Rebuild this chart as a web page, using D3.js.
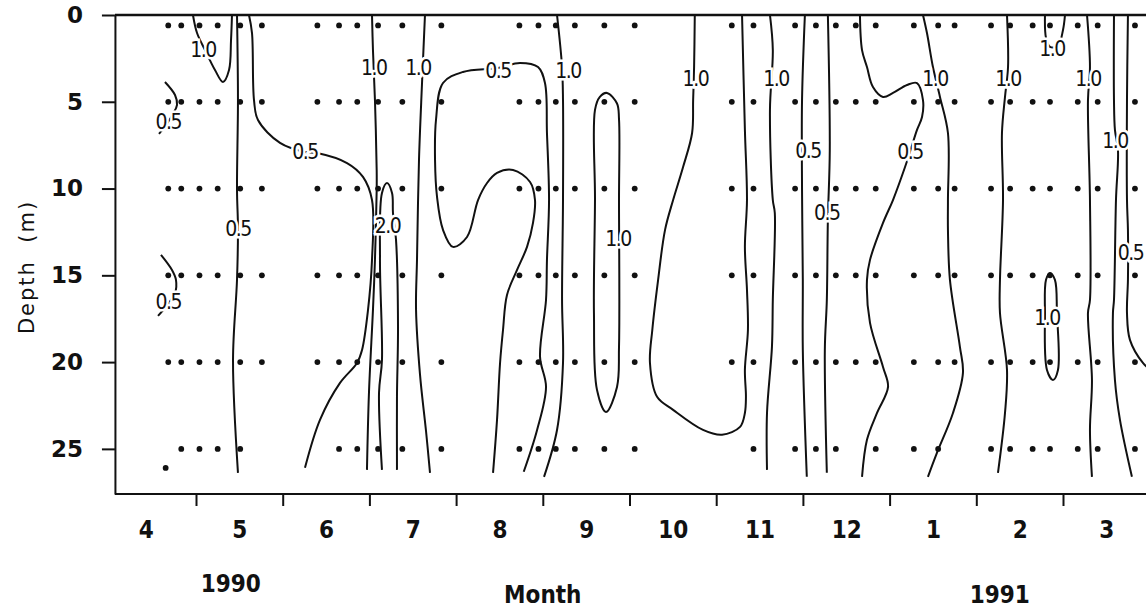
<!DOCTYPE html>
<html>
<head>
<meta charset="utf-8">
<script src="https://cdn.jsdelivr.net/npm/d3@7"></script>
<style>
  body { margin: 0; background: #fff; }
  text { fill: #111; }
</style>
</head>
<body>
<svg width="1146" height="611"></svg>
<script>
// x values are months since 1 April 1990, y values are depth in metres
var monthTicks = [1, 2, 3, 4, 5, 6, 7, 8, 9, 10, 11];
var monthNames = ["4", "5", "6", "7", "8", "9", "10", "11", "12", "1", "2", "3"];
var monthLabelPos = [0.42, 1.5, 2.5, 3.5, 4.5, 5.5, 6.5, 7.5, 8.5, 9.5, 10.5, 11.5];
var depthTicks = [0, 5, 10, 15, 20, 25];

// sampling stations (month position) and sampled depths (surface drawn just below 0)
var stations = [0.68, 0.83, 1.04, 1.25, 1.51, 1.76, 2.40, 2.65, 2.86, 3.10, 3.38, 3.83,
  4.73, 4.95, 5.15, 5.37, 5.71, 6.06, 7.18, 7.43, 7.91, 8.15, 8.38, 8.61, 8.84,
  9.28, 9.56, 9.75, 10.17, 10.39, 10.65, 10.85, 11.17, 11.40, 11.83];
var sampleDepths = [0.6, 5, 10, 15, 20, 25];
var missing25 = [0, 5, 6, 18, 23, 27]; // station indexes with no 25 m sample
var extraSamples = [[0.65, 26.1]];

// contour lines, [month, depth]
var c10a = [[0.965, 0], [1.012, 1.04], [1.104, 2.02], [1.219, 3.17], [1.311, 3.86], [1.381, 3.17], [1.404, 1.44], [1.415, 0]];
var c05a = [[1.473, 0], [1.484, 4.9], [1.473, 10.08], [1.484, 12.27], [1.473, 15.26], [1.427, 19.87], [1.484, 26.38]];
var c05b = [[1.611, 0], [1.646, 1.04], [1.669, 4.9], [1.715, 6.05], [1.969, 7.37], [2.257, 7.89], [2.396, 7.95],
  [2.742, 8.53], [2.926, 9.33], [3.03, 10.66], [3.03, 14.11], [2.984, 16.99], [2.915, 19.3], [2.857, 20.05],
  [2.661, 21.2], [2.43, 23.33], [2.257, 26.09]];
var c05c = [[0.642, 3.86], [0.758, 4.61], [0.781, 5.18], [0.735, 5.7], [0.619, 6.57], [0.573, 6.85]];
var c05d = [[0.596, 13.82], [0.723, 14.69], [0.769, 15.26], [0.758, 16.01], [0.562, 17.34]];
var c10b = [[3.03, 0], [3.041, 2.02], [3.064, 4.9], [3.084, 8.93], [3.084, 10.08], [3.064, 14.11], [3.041, 16.99], [2.995, 21.77], [2.972, 26.21]];
var c20a = [[3.145, 26.21], [3.111, 21.77], [3.145, 19.87], [3.122, 14.11], [3.145, 10.25], [3.203, 9.68],
  [3.261, 10.25], [3.272, 11.41], [3.307, 12.96], [3.33, 17.97], [3.318, 22.0], [3.318, 26.21]];
var c10c = [[3.641, 0], [3.607, 3.92], [3.572, 8.35], [3.549, 14.11], [3.538, 16.99], [3.584, 20.74], [3.653, 23.97], [3.699, 26.38]];
var c05e = [[4.426, 26.38], [4.472, 23.33], [4.507, 20.05], [4.541, 18.15], [4.587, 16.13], [4.703, 14.69],
  [4.818, 13.36], [4.887, 11.98], [4.91, 10.66], [4.853, 9.62], [4.657, 8.93], [4.472, 9.1], [4.357, 9.68],
  [4.253, 10.66], [4.126, 12.79], [3.964, 13.36], [3.849, 12.38], [3.78, 10.48], [3.757, 8.35], [3.768, 6.05],
  [3.849, 3.92], [4.079, 3.28], [4.484, 3.05], [4.737, 2.76], [4.945, 3.0], [5.025, 3.92], [5.048, 6.8],
  [5.072, 10.66], [5.048, 14.11], [5.037, 16.42], [4.968, 19.7], [5.037, 21.43], [4.934, 23.91], [4.78, 26.32]];
var c10d = [[5.164, 0], [5.222, 3.0], [5.233, 4.9], [5.233, 10.66], [5.222, 16.42], [5.233, 20.05], [5.164, 23.91], [5.014, 26.61]];
var c10e = [[5.74, 4.49], [5.856, 5.1], [5.879, 6.0], [5.879, 10.66], [5.879, 19.12], [5.856, 21.43], [5.729, 22.87],
  [5.625, 21.6], [5.59, 17.17], [5.602, 10.66], [5.602, 5.47], [5.658, 4.72]];
var c10f = [[6.753, 0], [6.745, 3.0], [6.734, 4.9], [6.722, 6.8], [6.618, 8.76], [6.503, 10.66], [6.41, 12.38],
  [6.33, 15.26], [6.263, 18.15], [6.236, 20.05], [6.318, 22.0], [6.503, 22.75], [6.848, 23.91], [7.067, 24.19],
  [7.275, 23.73], [7.331, 22.93], [7.343, 22.0], [7.331, 20.45], [7.366, 18.15], [7.355, 15.84], [7.331, 13.36],
  [7.355, 10.66], [7.331, 6.62], [7.298, 0]];
var c10g = [[7.62, 0], [7.653, 2.02], [7.62, 5.47], [7.653, 10.66], [7.676, 11.41], [7.653, 16.42], [7.643, 19.12], [7.586, 22.93], [7.586, 26.21]];
var c05f = [[8.023, 0], [7.99, 4.9], [7.99, 10.08], [7.999, 15.26], [7.999, 19.3], [8.045, 26.61]];
var c05g = [[8.288, 0], [8.31, 7.78], [8.288, 11.81], [8.276, 16.42], [8.253, 19.3], [8.276, 26.38]];
var c05h = [[8.658, 0], [8.682, 2.02], [8.739, 3.0], [8.808, 4.15], [8.924, 4.72], [9.039, 4.49], [9.201, 4.03],
  [9.316, 3.92], [9.385, 4.9], [9.374, 5.88], [9.316, 6.62], [9.235, 7.89], [9.178, 8.76], [9.039, 10.66],
  [8.924, 11.98], [8.774, 14.11], [8.739, 15.26], [8.774, 17.74], [8.924, 20.28], [8.982, 21.43], [8.855, 22.93],
  [8.739, 24.48], [8.682, 26.61]];
var c10h = [[9.385, 0], [9.431, 1.04], [9.5, 3.0], [9.581, 4.72], [9.673, 6.8], [9.673, 10.66], [9.673, 12.38],
  [9.696, 15.26], [9.811, 19.12], [9.846, 20.62], [9.731, 22.93], [9.546, 25.23], [9.442, 26.61]];
var c10i = [[10.354, 0], [10.366, 3.0], [10.331, 4.72], [10.296, 6.8], [10.308, 10.66], [10.273, 15.26],
  [10.273, 17.17], [10.354, 20.45], [10.331, 22.93], [10.25, 26.38]];
var c10j = [[10.792, 0], [10.804, 1.32], [10.85, 1.84], [10.942, 1.79], [11.0, 0.86], [11.023, 0]];
var c10k = [[10.85, 14.86], [10.907, 15.26], [10.93, 17.17], [10.942, 20.45], [10.884, 21.03], [10.815, 20.45], [10.792, 17.17], [10.804, 15.26]];
var c10l = [[11.277, 0], [11.311, 3.0], [11.288, 4.9], [11.311, 10.66], [11.311, 16.42], [11.288, 17.17], [11.334, 21.03], [11.311, 23.91], [11.334, 26.61]];
var c10m = [[11.588, 0], [11.588, 4.9], [11.599, 6.62], [11.634, 7.78], [11.611, 10.66], [11.588, 16.42], [11.576, 17.17], [11.599, 21.03], [11.657, 23.33], [11.795, 26.61]];
var c05i = [[11.749, 0], [11.738, 4.9], [11.738, 10.66], [11.749, 12.38], [11.749, 15.26], [11.738, 17.17], [11.772, 18.72], [11.922, 20.05], [12.0, 20.4]];

var openLines = [c10a, c05a, c05b, c05c, c05d, c10b, c20a, c10c, c05e, c10d, c10f, c10g, c05f, c05g, c05h, c10h, c10i, c10j, c10l, c10m, c05i];
var closedLines = [c10e, c10k];

// contour labels [text, month, depth]
var contourLabels = [
  ["1.0", 1.08, 2.0], ["0.5", 0.68, 6.16], ["0.5", 0.68, 16.53], ["0.5", 1.484, 12.27], ["0.5", 2.257, 7.89],
  ["1.0", 3.05, 3.05], ["2.0", 3.21, 12.15], ["1.0", 3.561, 3.05], ["0.5", 4.484, 3.17], ["1.0", 5.29, 3.17],
  ["1.0", 5.867, 12.85], ["1.0", 6.76, 3.63], ["1.0", 7.69, 3.63], ["0.5", 8.06, 7.78], ["0.5", 8.276, 11.35],
  ["0.5", 9.235, 7.89], ["1.0", 9.523, 3.63], ["1.0", 10.366, 3.63], ["1.0", 10.873, 1.9], ["1.0", 10.815, 17.45],
  ["1.0", 11.288, 3.63], ["1.0", 11.599, 7.2], ["0.5", 11.78, 13.71]
];

var svg = d3.select("svg"),
  width = +svg.attr("width");

var x = d3.scaleLinear().domain([0, 12]).range([109.3, 1149.7]);
var y = d3.scaleLinear().domain([0, 27.6]).range([15, 494]);
var xStart = 0.065; // left axis sits a couple of days into April

svg.append("rect").attr("width", width).attr("height", 611).attr("fill", "#fff");

svg.append("clipPath").attr("id", "plot")
  .append("rect")
  .attr("x", x(xStart)).attr("y", y(0))
  .attr("width", width - x(xStart)).attr("height", y(27.6) - y(0));

var plot = svg.append("g").attr("clip-path", "url(#plot)");

// sample dots
var dots = [];
sampleDepths.forEach(function (d) {
  stations.forEach(function (s, i) {
    if (d === 25 && missing25.indexOf(i) >= 0) return;
    dots.push([s, d]);
  });
});
dots = dots.concat(extraSamples);

plot.selectAll(".dot")
  .data(dots)
  .enter()
  .append("circle")
  .attr("class", "dot")
  .attr("cx", function (d) { return x(d[0]); })
  .attr("cy", function (d) { return y(d[1]); })
  .attr("r", 2.9)
  .attr("fill", "#111");

var line = d3.line()
  .x(function (d) { return x(d[0]); })
  .y(function (d) { return y(d[1]); })
  .curve(d3.curveCatmullRom.alpha(0.5));

var loop = d3.line()
  .x(function (d) { return x(d[0]); })
  .y(function (d) { return y(d[1]); })
  .curve(d3.curveCatmullRomClosed.alpha(0.5));

plot.selectAll(".contour")
  .data(openLines)
  .enter()
  .append("path")
  .attr("class", "contour")
  .attr("d", line)
  .attr("fill", "none")
  .attr("stroke", "#111")
  .attr("stroke-width", 2);

plot.selectAll(".loop")
  .data(closedLines)
  .enter()
  .append("path")
  .attr("class", "loop")
  .attr("d", loop)
  .attr("fill", "none")
  .attr("stroke", "#111")
  .attr("stroke-width", 2);

svg.selectAll(".clabel")
  .data(contourLabels)
  .enter()
  .append("text")
  .attr("class", "clabel")
  .attr("x", function (d) { return x(d[1]); })
  .attr("y", function (d) { return y(d[2]); })
  .attr("dy", "0.36em")
  .attr("text-anchor", "middle")
  .attr("font-family", "DejaVu Sans Condensed, DejaVu Sans")
  .attr("font-size", "21px")
  .attr("letter-spacing", "-1.5px")
  .attr("stroke", "#fff")
  .attr("stroke-width", 5)
  .attr("paint-order", "stroke")
  .text(function (d) { return d[0]; });

// frame
svg.append("line")
  .attr("x1", x(xStart)).attr("x2", width)
  .attr("y1", y(0)).attr("y2", y(0))
  .attr("stroke", "#111").attr("stroke-width", 2.4);

svg.append("line")
  .attr("x1", x(xStart)).attr("x2", width)
  .attr("y1", y(27.6)).attr("y2", y(27.6))
  .attr("stroke", "#111").attr("stroke-width", 2);

// y axis
var yAxis = svg.append("g")
  .attr("transform", "translate(" + x(xStart) + ",0)")
  .call(d3.axisLeft(y).tickValues(depthTicks).tickSize(13).tickSizeOuter(0).tickPadding(19));
yAxis.select(".domain").attr("stroke", "#111").attr("stroke-width", 2);
yAxis.selectAll(".tick line").attr("stroke", "#111").attr("stroke-width", 2);
yAxis.selectAll("text")
  .attr("font-family", "DejaVu Sans")
  .attr("font-weight", "bold")
  .attr("font-size", "23px")
  .attr("fill", "#111");

// month ticks
var xAxis = svg.append("g")
  .attr("transform", "translate(0," + y(27.6) + ")")
  .call(d3.axisBottom(x).tickValues(monthTicks).tickSize(12).tickFormat(""));
xAxis.select(".domain").remove();
xAxis.selectAll(".tick line").attr("stroke", "#111").attr("stroke-width", 2);

var xLabels = svg.append("g")
  .attr("transform", "translate(0," + y(27.6) + ")")
  .call(d3.axisBottom(x).tickValues(monthLabelPos).tickSize(0).tickPadding(27)
    .tickFormat(function (d, i) { return monthNames[i]; }));
xLabels.select(".domain").remove();
xLabels.selectAll("text")
  .attr("font-family", "DejaVu Sans Condensed, DejaVu Sans")
  .attr("font-weight", "bold")
  .attr("font-size", "24px")
  .attr("fill", "#111");

// titles
svg.append("text")
  .attr("transform", "translate(34,267) rotate(-90)")
  .attr("text-anchor", "middle")
  .attr("font-family", "DejaVu Sans")
  .attr("font-size", "21px")
  .attr("letter-spacing", "2px")
  .attr("xml:space", "preserve")
  .text("Depth  (m)");

svg.append("text")
  .attr("x", x(1.4)).attr("y", 592)
  .attr("text-anchor", "middle")
  .attr("font-family", "DejaVu Sans Condensed, DejaVu Sans")
  .attr("font-weight", "bold")
  .attr("font-size", "24px")
  .text("1990");

svg.append("text")
  .attr("x", x(5)).attr("y", 603)
  .attr("text-anchor", "middle")
  .attr("font-family", "DejaVu Sans Condensed, DejaVu Sans")
  .attr("font-weight", "bold")
  .attr("font-size", "24px")
  .text("Month");

svg.append("text")
  .attr("x", x(10.27)).attr("y", 603)
  .attr("text-anchor", "middle")
  .attr("font-family", "DejaVu Sans Condensed, DejaVu Sans")
  .attr("font-weight", "bold")
  .attr("font-size", "24px")
  .text("1991");
</script>
</body>
</html>
